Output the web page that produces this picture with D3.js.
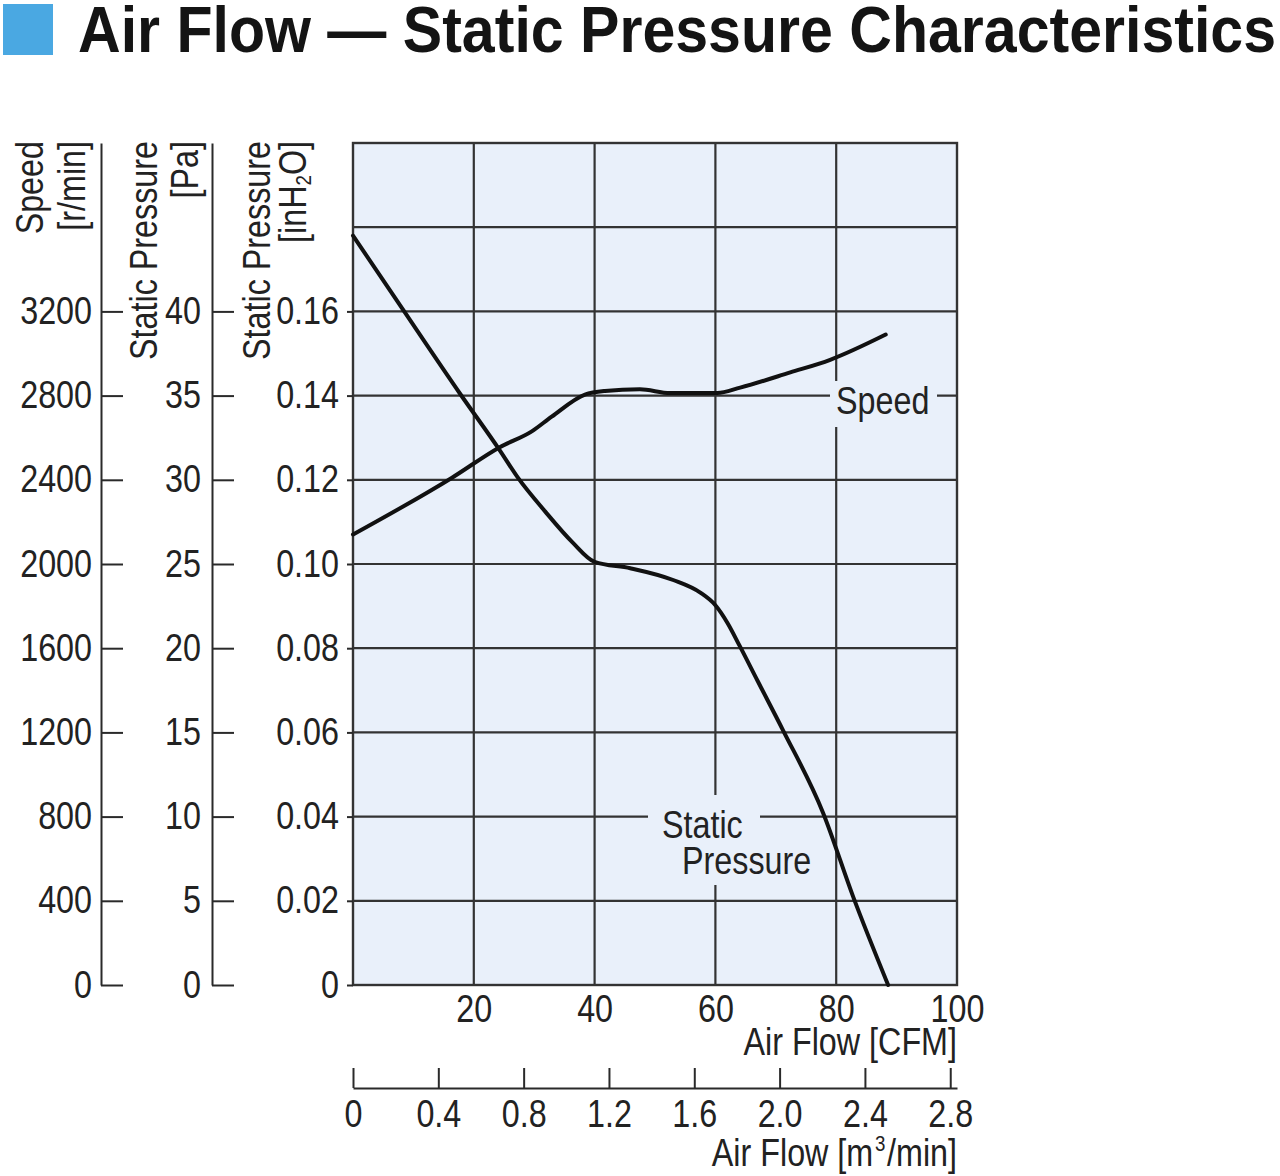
<!DOCTYPE html>
<html>
<head>
<meta charset="utf-8">
<script src="https://cdn.jsdelivr.net/npm/d3@7/dist/d3.min.js"></script>
<style>
  html, body { margin: 0; padding: 0; background: #ffffff; }
  svg { display: block; }
  text { font-family: "Liberation Sans", Arial, sans-serif; fill: #222; }
</style>
</head>
<body>
<script>
// ---- data ----
const cfmTicks = [20, 40, 60, 80, 100];
const m3Ticks = [0, 0.4, 0.8, 1.2, 1.6, 2.0, 2.4, 2.8];
const speedTicks = [0, 400, 800, 1200, 1600, 2000, 2400, 2800, 3200];
const paTicks = [0, 5, 10, 15, 20, 25, 30, 35, 40];
const inh2oTicks = [0, 0.02, 0.04, 0.06, 0.08, 0.10, 0.12, 0.14, 0.16];
const gridCfm = [20, 40, 60, 80];
const gridInh2o = [0.02, 0.04, 0.06, 0.08, 0.10, 0.12, 0.14, 0.16, 0.18];

const pressureCfm   = [0, 8, 17.7, 24.3, 27.3, 31.8, 36.3, 40, 45.9, 53, 57.5, 60, 62, 64, 67, 71.2, 77.8, 82.8, 88.6];
const pressureInh2o = [0.178, 0.161, 0.1405, 0.127, 0.1205, 0.1125, 0.1052, 0.1005, 0.099, 0.0962, 0.0932, 0.0902, 0.0860, 0.0806, 0.0722, 0.0605, 0.041, 0.021, 0];

const speedCfm = [0, 16.4, 24.3, 29.6, 32.9, 38.4, 41.7, 47.5, 52.5, 60.3, 64.1, 72.4, 79, 88.2];
const speedRpm = [2140, 2410, 2555, 2630, 2700, 2805, 2822, 2830, 2812, 2812, 2838, 2910, 2970, 3090];

const titleText = "Air Flow \u2014 Static Pressure Characteristics";

// ---- layout ----
const W = 1280, H = 1176;
const plot = { left: 353, right: 957, top: 143, bottom: 985 };
const FS = 38;
const SX = 0.85;          // horizontal condensing (narrow type)
const bg = "#e9f0fa";
const ink = "#2a2a2a";

const svg = d3.select("body").append("svg").attr("width", W).attr("height", H);

// narrow text helper: text drawn at origin, positioned by transform
function ntext(parent, xPos, yPos, str, anchor, rot) {
  const t = parent.append("text")
    .attr("transform", `translate(${xPos},${yPos})${rot ? ` rotate(${rot})` : ""} scale(${SX},1)`)
    .attr("font-size", FS).attr("text-anchor", anchor || "start");
  if (str != null) t.text(str);
  return t;
}
function condenseAxis(g) {
  g.selectAll(".tick text").each(function () {
    const el = d3.select(this);
    const x0 = +el.attr("x") || 0;
    el.attr("transform", `translate(${x0 * (1 - SX)},0) scale(${SX},1)`);
  });
}

// title
svg.append("rect").attr("x", 3).attr("y", 4).attr("width", 50).attr("height", 51).attr("fill", "#4aa8e2");
svg.append("text").attr("x", 78).attr("y", 52)
  .attr("font-size", 64).attr("font-weight", "bold").style("fill", "#141414")
  .attr("textLength", 1198).attr("lengthAdjust", "spacingAndGlyphs")
  .text(titleText);

// scales
const x = d3.scaleLinear().domain([0, 100]).range([plot.left, plot.right]);
const xm3 = d3.scaleLinear().domain([0, 100 * 0.0283168]).range([plot.left, plot.right]);
const yIn = d3.scaleLinear().domain([0, 0.2]).range([plot.bottom, plot.top]);
const yPa = d3.scaleLinear().domain([0, 50]).range([plot.bottom, plot.top]);
const ySp = d3.scaleLinear().domain([0, 4000]).range([plot.bottom, plot.top]);

// plot background
svg.append("rect").attr("x", plot.left).attr("y", plot.top)
  .attr("width", plot.right - plot.left).attr("height", plot.bottom - plot.top)
  .attr("fill", bg);

// grid
const grid = svg.append("g").attr("stroke", "#333").attr("stroke-width", 2.2);
grid.selectAll("line.h").data(gridInh2o).join("line").attr("class", "h")
  .attr("x1", plot.left).attr("x2", plot.right)
  .attr("y1", d => yIn(d)).attr("y2", d => yIn(d));
grid.selectAll("line.v").data(gridCfm).join("line").attr("class", "v")
  .attr("y1", plot.top).attr("y2", plot.bottom)
  .attr("x1", d => x(d)).attr("x2", d => x(d));
svg.append("rect").attr("x", plot.left).attr("y", plot.top)
  .attr("width", plot.right - plot.left).attr("height", plot.bottom - plot.top)
  .attr("fill", "none").attr("stroke", "#333").attr("stroke-width", 2.4);

// label backgrounds (break the grid lines)
svg.append("rect").attr("x", 830).attr("y", 381).attr("width", 107).attr("height", 46).attr("fill", bg);
svg.append("rect").attr("x", 648).attr("y", 795).attr("width", 112).attr("height", 90).attr("fill", bg);

// curves
const line = d3.line().curve(d3.curveMonotoneX);
svg.append("path")
  .attr("d", line(pressureCfm.map((c, i) => [x(c), yIn(pressureInh2o[i])])))
  .attr("fill", "none").attr("stroke", "#111").attr("stroke-width", 4).attr("stroke-linecap", "round");
svg.append("path")
  .attr("d", line(speedCfm.map((c, i) => [x(c), ySp(speedRpm[i])])))
  .attr("fill", "none").attr("stroke", "#111").attr("stroke-width", 4).attr("stroke-linecap", "round");

// curve labels
ntext(svg, 836, 414, "Speed");
ntext(svg, 662, 838, "Static");
ntext(svg, 682, 874, "Pressure");

function styleAxis(g) {
  g.selectAll("path.domain").attr("stroke", ink).attr("stroke-width", 2);
  g.selectAll(".tick line").attr("stroke", ink).attr("stroke-width", 2);
  g.selectAll(".tick text").attr("font-size", FS).attr("font-family", null).style("fill", "#222");
  condenseAxis(g);
}

// speed axis
const gSp = svg.append("g").attr("transform", "translate(101,0)")
  .call(d3.axisLeft(ySp).tickValues(speedTicks).tickFormat(d3.format("d")).tickSizeInner(-22).tickSizeOuter(0).tickPadding(9));
styleAxis(gSp);
// Pa axis
const gPa = svg.append("g").attr("transform", "translate(212,0)")
  .call(d3.axisLeft(yPa).tickValues(paTicks).tickFormat(d3.format("d")).tickSizeInner(-22).tickSizeOuter(0).tickPadding(11));
styleAxis(gPa);
// inH2O axis
const gIn = svg.append("g").attr("transform", `translate(${plot.left},0)`)
  .call(d3.axisLeft(yIn).tickValues(inh2oTicks).tickFormat(d => d === 0 ? "0" : d3.format(".2f")(d)).tickSize(6).tickPadding(8));
gIn.select("path.domain").remove();
styleAxis(gIn);

// CFM axis (labels only)
const gCfm = svg.append("g").attr("transform", `translate(0,${plot.bottom})`)
  .call(d3.axisBottom(x).tickValues(cfmTicks).tickSize(0).tickPadding(10));
gCfm.select("path.domain").remove();
styleAxis(gCfm);
ntext(svg, plot.right, 1055, "Air Flow [CFM]", "end");

// m3/min axis
const gM3 = svg.append("g").attr("transform", "translate(0,1088)")
  .call(d3.axisBottom(xm3).tickValues(m3Ticks).tickFormat(d => d === 0 ? "0" : d3.format(".1f")(d)).tickSizeInner(-20).tickSizeOuter(0).tickPadding(12));
styleAxis(gM3);
const m3Title = ntext(svg, plot.right, 1166, null, "end");
m3Title.append("tspan").text("Air Flow [m");
m3Title.append("tspan").attr("font-size", 22).attr("dy", -15).attr("dx", 2).text("3");
m3Title.append("tspan").attr("dy", 15).attr("dx", 2).text("/min]");

// rotated axis titles
function vtitle(xb, parts) {
  const t = ntext(svg, xb, 141, null, "end", -90);
  parts.forEach(p => {
    const s = t.append("tspan").text(p.t);
    if (p.fs) s.attr("font-size", p.fs);
    if (p.dy) s.attr("dy", p.dy);
  });
}
vtitle(43, [{ t: "Speed" }]);
vtitle(85, [{ t: "[r/min]" }]);
vtitle(157, [{ t: "Static Pressure" }]);
vtitle(198, [{ t: "[Pa]" }]);
vtitle(270, [{ t: "Static Pressure" }]);
vtitle(306, [{ t: "[inH" }, { t: "2", fs: 22, dy: 5 }, { t: "O]", dy: -5 }]);
</script>
</body>
</html>
